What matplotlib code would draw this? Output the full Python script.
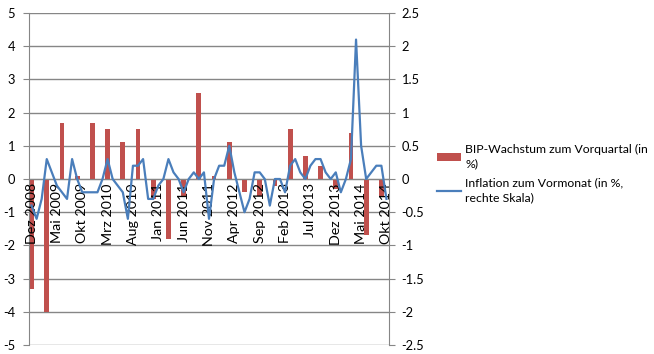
import matplotlib
matplotlib.use("Agg")
import matplotlib.pyplot as plt
import numpy as np
from matplotlib.patches import Patch
from matplotlib.lines import Line2D

plt.rcParams['font.family'] = ['Lato', 'DejaVu Sans']
plt.rcParams['axes.unicode_minus'] = False

# --- data -------------------------------------------------------------
month_abbr = ['Jan', 'Feb', 'Mrz', 'Apr', 'Mai', 'Jun',
              'Jul', 'Aug', 'Sep', 'Okt', 'Nov', 'Dez']
months = ['Dez 2008'] + [f'{m} {y}' for y in range(2009, 2015) for m in month_abbr]
months = months[:months.index('Okt 2014') + 1]          # Dez 2008 .. Okt 2014

# monthly inflation vs previous month (%), right scale
inflation = [-0.4, -0.6, -0.3, 0.3, 0.1, -0.1, -0.2, -0.3, 0.3, 0.0,
             -0.2, -0.2, -0.2, -0.2, 0.0, 0.3, 0.0, -0.1, -0.2, -0.6,
             0.2, 0.2, 0.3, -0.3, -0.3, -0.1, 0.0, 0.3, 0.1, 0.0,
             -0.2, 0.0, 0.1, 0.0, 0.1, -0.6, 0.0, 0.2, 0.2, 0.5,
             0.1, -0.2, -0.5, -0.3, 0.1, 0.1, 0.0, -0.4, 0.0, 0.0,
             -0.2, 0.2, 0.3, 0.1, 0.0, 0.2, 0.3, 0.3, 0.1, 0.0,
             0.1, -0.2, 0.0, 0.3, 2.1, 0.5, 0.0, 0.1, 0.2, 0.2,
             -0.3]

# quarterly GDP growth vs previous quarter (%), left scale
gdp_months = ['Dez 2008', 'Mrz 2009', 'Jun 2009', 'Sep 2009', 'Dez 2009',
              'Mrz 2010', 'Jun 2010', 'Sep 2010', 'Dez 2010', 'Mrz 2011',
              'Jun 2011', 'Sep 2011', 'Dez 2011', 'Mrz 2012', 'Jun 2012',
              'Sep 2012', 'Dez 2012', 'Mrz 2013', 'Jun 2013', 'Sep 2013',
              'Dez 2013', 'Mrz 2014', 'Jun 2014', 'Sep 2014']
gdp = [-3.3, -4.0, 1.7, 0.1, 1.7, 1.5, 1.1, 1.5, -0.6, -1.8, -0.5, 2.6,
       0.1, 1.1, -0.4, -0.5, -0.2, 1.5, 0.7, 0.4, -0.3, 1.4, -1.7, -0.5]

tick_labels = months[::5]

left_ticks = [-5, -4, -3, -2, -1, 0, 1, 2, 3, 4, 5]
right_ticks = [-2.5, -2, -1.5, -1, -0.5, 0, 0.5, 1, 1.5, 2, 2.5]

# --- style ------------------------------------------------------------
RED = '#C0504D'
BLUE = '#4A7EBB'
GRID = '#868686'
FS_X = 10.3
FS_Y = 9.3
FS_LEG = 8.8

fig = plt.figure(figsize=(6.54, 3.54), dpi=100)
ax = fig.add_axes([29 / 654, 9 / 354, 360 / 654, 332 / 354])

x_month = np.arange(len(months))
x_gdp = [months.index(m) for m in gdp_months]

# left axis: bars
ax.spines['bottom'].set_position(('data', 0))
ax.spines['bottom'].set_color(GRID)
ax.spines['top'].set_visible(False)
ax.spines['right'].set_visible(False)
ax.spines['left'].set_color(GRID)

ax.bar(x_gdp, gdp, width=0.95, color=RED, zorder=2)
ax.set_xlim(-0.5, len(months) - 0.5)
ax.set_ylim(left_ticks[0], left_ticks[-1])
ax.set_yticks(left_ticks)
ax.set_yticklabels([f'{v:g}' for v in left_ticks])
ax.yaxis.grid(True, color=GRID, linewidth=1.0)
ax.set_axisbelow(True)
ax.tick_params(axis='x', length=0, labelbottom=False)
ax.tick_params(axis='y', length=4, color=GRID, labelsize=FS_Y, pad=6)

# right axis: line, and category labels drawn on top of everything
ax2 = ax.twinx()
ax2.plot(x_month, inflation, color=BLUE, linewidth=1.6, zorder=2)
ax2.set_ylim(right_ticks[0], right_ticks[-1])
ax2.set_yticks(right_ticks)
ax2.set_yticklabels([f'{v:g}' for v in right_ticks])
for s in ['top', 'left']:
    ax2.spines[s].set_visible(False)
ax2.spines['bottom'].set_position(('data', 0))
ax2.spines['bottom'].set_visible(False)
ax2.spines['right'].set_color(GRID)
ax2.xaxis.set_visible(True)
ax2.set_xticks(x_month[::5])
ax2.set_xticklabels(tick_labels)
ax2.tick_params(axis='x', length=0, pad=3, labelrotation=90, labelsize=FS_X,
                bottom=True, labelbottom=True, top=False, labeltop=False)
ax2.tick_params(axis='y', length=4, color=GRID, labelsize=FS_Y, pad=5)

handles = [Patch(facecolor=RED, edgecolor='none'),
           Line2D([0], [0], color=BLUE, linewidth=1.6)]
labels = ['BIP-Wachstum zum Vorquartal (in\n%)',
          'Inflation zum Vormonat (in %,\nrechte Skala)']
leg = fig.legend(handles, labels, loc='upper left',
                 bbox_to_anchor=(437 / 654, 1 - 144 / 354),
                 frameon=False, fontsize=FS_LEG, handlelength=2.0,
                 handleheight=0.6, handletextpad=0.3, labelspacing=0.7,
                 borderaxespad=0, borderpad=0)
for t in leg.get_texts():
    t.set_linespacing(1.35)

fig.savefig('out.png', dpi=100)
